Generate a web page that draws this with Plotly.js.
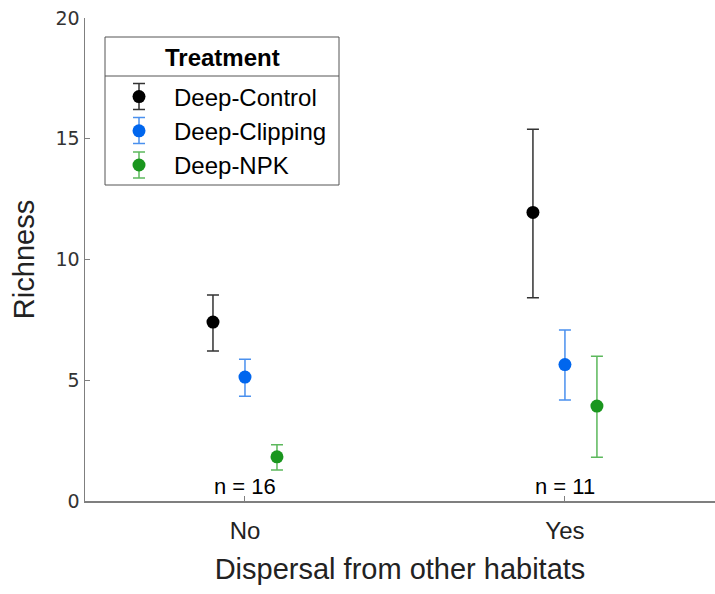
<!DOCTYPE html>
<html>
<head>
<meta charset="utf-8">
<script src="https://cdn.plot.ly/plotly-3.0.1.min.js"></script>
<style>html,body{margin:0;padding:0;background:#fff;}#chart{width:715px;height:594px;}</style>
</head>
<body>
<div id="chart"></div>
<script>
// ---- data ----
const categories = ['No', 'Yes'];
const treatments = ['Deep-Control', 'Deep-Clipping', 'Deep-NPK'];
const legendTitle = 'Treatment';
const controlMean = [7.41, 11.95];
const controlLow  = [6.21, 8.42];
const controlHigh = [8.53, 15.39];
const clippingMean = [5.13, 5.65];
const clippingLow  = [4.34, 4.18];
const clippingHigh = [5.87, 7.08];
const npkMean = [1.83, 3.93];
const npkLow  = [1.28, 1.81];
const npkHigh = [2.33, 5.99];
const sampleSizes = [16, 11];
const yTicks = [0, 5, 10, 15, 20];

// ---- styles ----
const markerColors = ['#000000', '#0066ee', '#1a961e'];
const errorColors = ['#333333', '#4a90ee', '#5cb85c'];
const dodge = [-0.1, 0, 0.1];
const series = [
  {mean: controlMean, low: controlLow, high: controlHigh},
  {mean: clippingMean, low: clippingLow, high: clippingHigh},
  {mean: npkMean, low: npkLow, high: npkHigh}
];
const FONT = 'Liberation Sans, Arial, sans-serif';

const traces = series.map((s, i) => ({
  type: 'scatter',
  mode: 'markers',
  name: treatments[i],
  x: categories.map((c, j) => j + 1 + dodge[i]),
  y: s.mean,
  marker: {color: markerColors[i], size: 13},
  error_y: {
    type: 'data', symmetric: false,
    array: s.mean.map((m, j) => s.high[j] - m),
    arrayminus: s.mean.map((m, j) => m - s.low[j]),
    color: errorColors[i], thickness: 1.5, width: 6
  },
  hoverinfo: 'x+y+name'
}));

const annotations = categories.map((c, j) => ({
  x: j + 1, y: 0, xref: 'x', yref: 'y',
  text: 'n = ' + sampleSizes[j],
  showarrow: false, yanchor: 'bottom', xanchor: 'center',
  font: {family: FONT, size: 22, color: '#000'}
}));

// legend frame geometry (paper px -> paper fraction), plot area 85..715 x 18..501
const PL = 85, PW = 630, PT = 18, PH = 483;
const px = v => (v - PL) / PW;
const py = v => 1 - (v - PT) / PH;
annotations.push({
  xref: 'paper', yref: 'paper', x: px(222), y: py(58),
  xanchor: 'center', yanchor: 'middle', showarrow: false,
  text: '<b>' + legendTitle + '</b>', font: {family: FONT, size: 24, color: '#000'}
});

const shapes = [
  {type: 'rect', xref: 'paper', yref: 'paper', x0: px(105), x1: px(339), y0: py(37), y1: py(185),
   line: {color: '#555', width: 1}, fillcolor: 'rgba(0,0,0,0)', layer: 'above'},
  {type: 'line', xref: 'paper', yref: 'paper', x0: px(105), x1: px(339), y0: py(76), y1: py(76),
   line: {color: '#555', width: 1}, layer: 'above'}
];
// error-bar glyphs in the legend keys
const keyY = [96.5, 130.5, 165];
const keyX = 139;
keyY.forEach((yc, i) => {
  const ln = (x0, x1, y0, y1) => ({type: 'line', xref: 'paper', yref: 'paper',
    x0: px(x0), x1: px(x1), y0: py(y0), y1: py(y1), line: {color: errorColors[i], width: 1.5}, layer: 'below'});
  shapes.push(ln(keyX, keyX, yc - 13, yc + 13));
  shapes.push(ln(keyX - 6, keyX + 6, yc - 13, yc - 13));
  shapes.push(ln(keyX - 6, keyX + 6, yc + 13, yc + 13));
});

const layout = {
  width: 715, height: 594,
  margin: {l: PL, r: 0, t: PT, b: 594 - PT - PH},
  paper_bgcolor: '#fff', plot_bgcolor: '#fff',
  showlegend: true,
  legend: {
    x: px(104), y: py(74.5), xanchor: 'left', yanchor: 'top',
    bgcolor: 'rgba(0,0,0,0)', borderwidth: 0,
    font: {family: FONT, size: 24, color: '#000'},
    itemwidth: 60
  },
  xaxis: {
    range: [0.5, 2.469], tickvals: categories.map((c, j) => j + 1), ticktext: categories,
    showline: true, linecolor: '#7f7f7f', linewidth: 1.5,
    ticks: 'inside', ticklen: 5, tickcolor: '#7f7f7f', tickwidth: 1,
    showgrid: false, zeroline: false, ticklabelstandoff: 8,
    tickfont: {family: FONT, size: 24, color: '#222'},
    title: {text: 'Dispersal from other habitats', standoff: 15,
            font: {family: FONT, size: 29, color: '#222'}}
  },
  yaxis: {
    range: [0, 20], tickvals: yTicks,
    showline: true, linecolor: '#7f7f7f', linewidth: 1.5,
    ticks: 'inside', ticklen: 5, tickcolor: '#7f7f7f', tickwidth: 1,
    showgrid: false, zeroline: false,
    tickfont: {family: 'DejaVu Sans, sans-serif', size: 19, color: '#333'},
    title: {text: 'Richness', standoff: 12,
            font: {family: FONT, size: 29, color: '#222'}}
  },
  annotations: annotations,
  shapes: shapes
};

Plotly.newPlot('chart', traces, layout, {displayModeBar: false, staticPlot: true});
</script>
</body>
</html>
